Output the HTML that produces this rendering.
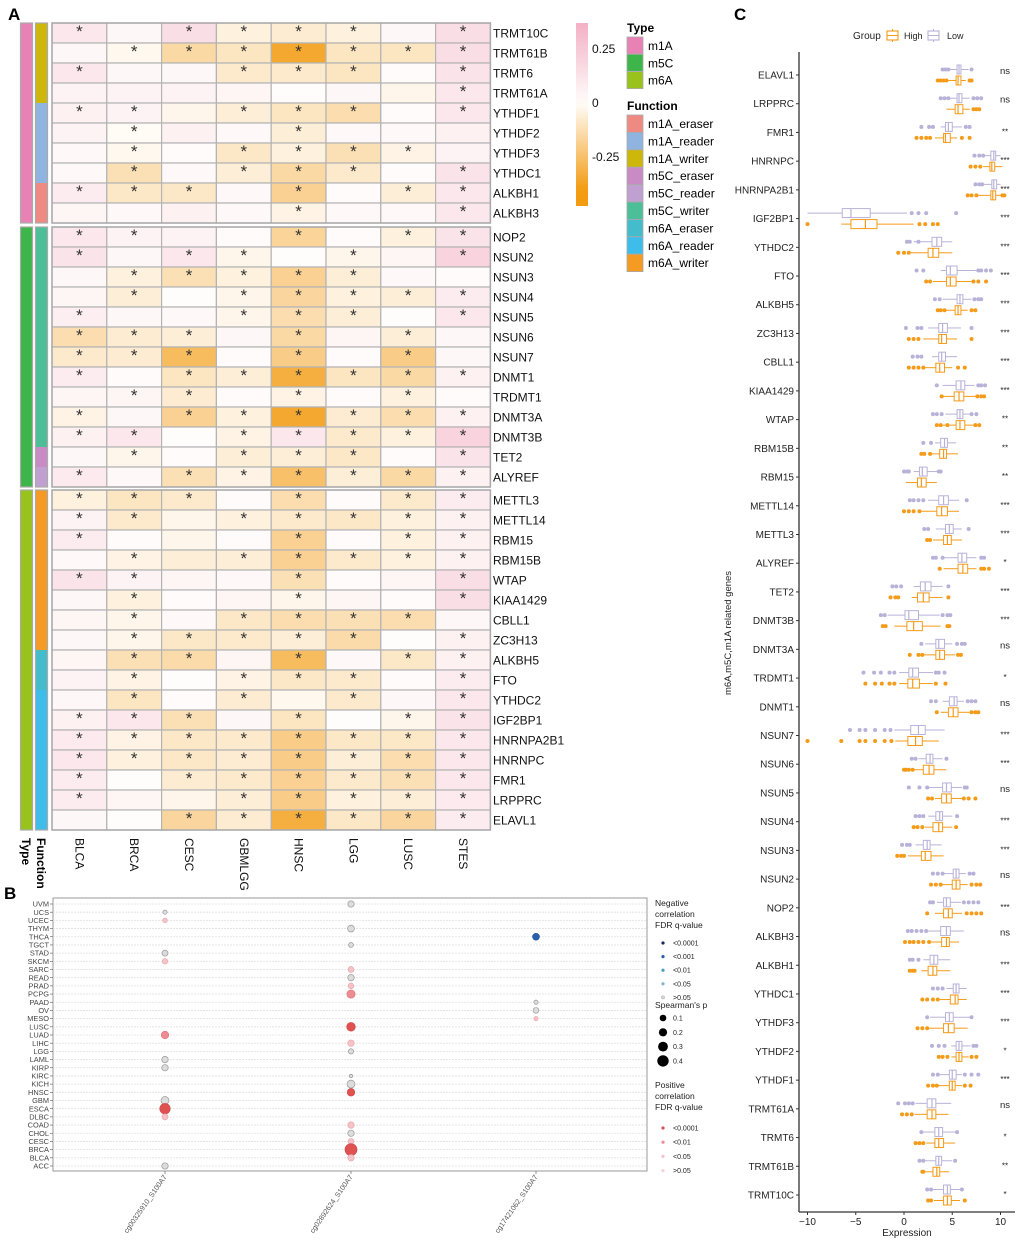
<!DOCTYPE html>
<html><head><meta charset="utf-8">
<style>
html,body{margin:0;padding:0;background:#fff;}
svg{display:block;font-family:"Liberation Sans",sans-serif;}
</style></head>
<body>
<svg id="fig" width="1020" height="1243" viewBox="0 0 1020 1243" xmlns="http://www.w3.org/2000/svg">
<text x="8" y="20" font-size="17" font-weight="bold">A</text>
<text x="4" y="899" font-size="17" font-weight="bold">B</text>
<text x="734" y="20" font-size="17" font-weight="bold">C</text>
<g id="pa"></g>
<g id="pb"></g>
<g id="pc"></g>
</svg>
<script>
// ---------- Panel A data ----------
const hmCancers = ["BLCA","BRCA","CESC","GBMLGG","HNSC","LGG","LUSC","STES"];
const hmGenes = ["TRMT10C","TRMT61B","TRMT6","TRMT61A","YTHDF1","YTHDF2","YTHDF3","YTHDC1","ALKBH1","ALKBH3",
"NOP2","NSUN2","NSUN3","NSUN4","NSUN5","NSUN6","NSUN7","DNMT1","TRDMT1","DNMT3A","DNMT3B","TET2","ALYREF",
"METTL3","METTL14","RBM15","RBM15B","WTAP","KIAA1429","CBLL1","ZC3H13","ALKBH5","FTO","YTHDC2","IGF2BP1","HNRNPA2B1","HNRNPC","FMR1","LRPPRC","ELAVL1"];
const hmType = [0,0,0,0,0,0,0,0,0,0, 1,1,1,1,1,1,1,1,1,1,1,1,1, 2,2,2,2,2,2,2,2,2,2,2,2,2,2,2,2,2];
const hmFunc = [2,2,2,2,1,1,1,1,0,0, 5,5,5,5,5,5,5,5,5,5,5,3,4, 8,8,8,8,8,8,8,8,6,6,7,7,7,7,7,7,7];
const hmValues = [
[0.10,0.03,0.15,-0.05,-0.07,-0.05,0.03,0.15],
[0.03,-0.02,-0.15,-0.10,-0.35,-0.10,-0.10,0.15],
[0.10,0.03,0.03,-0.08,-0.08,-0.10,0.01,0.12],
[0.05,0.05,0.05,0.04,0.00,0.03,-0.03,0.10],
[0.06,0.05,-0.03,-0.06,-0.10,-0.13,0.01,0.10],
[0.05,-0.01,0.06,0.02,-0.06,0.02,0.02,0.06],
[0.02,-0.02,0.01,-0.09,-0.05,-0.12,-0.04,0.05],
[0.02,-0.12,0.02,-0.06,-0.15,-0.08,0.01,0.12],
[0.08,-0.09,-0.09,0.02,-0.18,0.01,-0.06,0.10],
[0.04,0.02,0.06,0.02,-0.04,0.02,0.02,0.10],
[0.10,0.05,0.05,0.01,-0.17,0.01,-0.05,0.12],
[0.12,0.03,0.10,-0.03,0.00,-0.03,0.04,0.20],
[0.03,-0.05,-0.12,-0.05,-0.18,-0.06,0.02,0.01],
[0.04,-0.06,0.00,-0.03,-0.16,-0.05,-0.06,0.08],
[0.07,0.03,0.02,-0.03,-0.13,-0.06,0.00,0.10],
[-0.13,-0.07,-0.06,0.03,-0.15,0.04,-0.06,0.03],
[-0.08,-0.07,-0.27,0.01,-0.20,0.01,-0.20,0.03],
[0.08,0.01,-0.10,-0.06,-0.32,-0.10,-0.15,0.06],
[0.04,0.04,-0.07,0.01,-0.04,0.01,-0.05,0.01],
[-0.04,0.03,-0.18,-0.05,-0.35,-0.07,-0.13,0.06],
[0.06,0.10,0.00,-0.04,0.10,-0.08,-0.05,0.20],
[0.03,-0.03,0.01,-0.06,-0.06,-0.09,0.01,0.12],
[0.09,0.02,-0.12,-0.04,-0.25,-0.06,-0.15,0.06],
[-0.05,-0.10,-0.08,0.01,-0.13,0.01,-0.08,0.08],
[0.05,-0.08,-0.03,-0.05,-0.08,-0.09,-0.05,0.06],
[0.08,0.01,-0.03,0.01,-0.18,0.01,-0.05,0.06],
[0.02,-0.04,-0.06,-0.06,-0.18,-0.08,-0.05,0.06],
[0.12,0.05,0.04,0.02,-0.12,0.01,0.04,0.15],
[0.03,-0.05,0.01,0.04,-0.03,0.04,0.01,0.15],
[0.04,-0.03,0.02,-0.09,-0.13,-0.12,-0.13,0.03],
[0.03,-0.03,-0.09,-0.08,-0.06,-0.14,0.00,0.06],
[0.04,-0.12,-0.14,0.04,-0.27,0.02,-0.09,0.06],
[0.05,-0.04,0.00,-0.04,-0.09,-0.08,0.01,0.08],
[0.03,-0.10,0.01,-0.07,-0.02,-0.08,0.03,0.10],
[0.06,0.10,-0.12,0.03,-0.10,0.00,-0.03,0.12],
[0.09,-0.04,-0.09,-0.08,-0.20,-0.09,-0.09,0.10],
[0.10,-0.05,-0.09,-0.07,-0.20,-0.06,-0.13,0.10],
[0.08,0.00,-0.07,-0.08,-0.18,-0.08,-0.12,0.10],
[0.08,0.04,-0.03,-0.06,-0.20,-0.05,-0.06,0.09],
[0.03,0.00,-0.16,-0.07,-0.32,-0.09,-0.16,0.08]];
const hmStars = ["10111101","01111111","10011101","00000001","11011101","01001000","01011110","01011101","11101011","00001001",
"11001011","10110101","01111100","01011111","10011101","11101010","11101010","10111111","01101010","10111111","11011111","01011101","10111111",
"11101011","11011111","10001011","01011111","11001001","01001001","01011110","01111101","01101011","01011101","01010101","11101011","11111111","11111111","10111111","10011111","00111111"];
const typeNames = ["m1A","m5C","m6A"];
const funcNames = ["m1A_eraser","m1A_reader","m1A_writer","m5C_eraser","m5C_reader","m5C_writer","m6A_eraser","m6A_reader","m6A_writer"];
const colorbarTicks = [0.25,0,-0.25];

// ---------- Panel B data ----------
const bCancers = ["UVM","UCS","UCEC","THYM","THCA","TGCT","STAD","SKCM","SARC","READ","PRAD","PCPG","PAAD","OV","MESO","LUSC","LUAD","LIHC","LGG","LAML","KIRP","KIRC","KICH","HNSC","GBM","ESCA","DLBC","COAD","CHOL","CESC","BRCA","BLCA","ACC"];
const bProbes = ["cg00325910_S100A7","cg02892624_S100A7","cg17421062_S100A7"];
const bPtProbe = [0,0,0,0,0,0,0,0,0,0,0, 1,1,1,1,1,1,1,1,1,1,1,1,1,1,1,1,1,1, 2,2,2,2];
const bPtCancer = ["UCS","UCEC","STAD","SKCM","LUAD","LAML","KIRP","GBM","ESCA","DLBC","ACC",
"UVM","THYM","TGCT","SARC","READ","PRAD","PCPG","LUSC","LIHC","LGG","KIRC","KICH","HNSC","COAD","CHOL","CESC","BRCA","BLCA",
"THCA","PAAD","OV","MESO"];
const bPtRho = [0.10,0.12,0.18,0.16,0.25,0.20,0.20,0.27,0.38,0.18,0.20,
0.20,0.22,0.13,0.18,0.20,0.17,0.28,0.30,0.20,0.15,0.06,0.27,0.25,0.20,0.20,0.18,0.45,0.20,
0.22,0.10,0.17,0.10];
const bPtClass = ["ns","p05","ns","p05","p01","ns","ns","ns","p0001","p05","ns",
"ns","ns","ns","p05","ns","p05","p01","p0001","p05","ns","ns","ns","p0001","p05","ns","p05","p0001","p05",
"n001","ns","ns","p05"];

// ---------- Panel C data ----------
const cGenes = ["ELAVL1","LRPPRC","FMR1","HNRNPC","HNRNPA2B1","IGF2BP1","YTHDC2","FTO","ALKBH5","ZC3H13","CBLL1","KIAA1429","WTAP","RBM15B","RBM15","METTL14","METTL3","ALYREF","TET2","DNMT3B","DNMT3A","TRDMT1","DNMT1","NSUN7","NSUN6","NSUN5","NSUN4","NSUN3","NSUN2","NOP2","ALKBH3","ALKBH1","YTHDC1","YTHDF3","YTHDF2","YTHDF1","TRMT61A","TRMT6","TRMT61B","TRMT10C"];
const cLow = [[4.7,5.5,5.7,5.9,6.7],[4.8,5.5,5.7,6,6.8],[3.8,4.3,4.6,5,6],[8.3,9,9.3,9.5,10],[8.2,9.1,9.3,9.6,10],[-10,-6.4,-5.5,-3.5,0.3],[1,2.9,3.4,3.9,5],[3.8,4.4,4.8,5.5,7.5],[4,5.5,5.8,6.1,7],[2.5,3.6,4,4.5,5.9],[2.9,3.6,3.9,4.3,5.5],[4,5.4,5.9,6.3,7.3],[4.3,5.5,5.8,6.1,6.8],[3.2,3.8,4.2,4.5,5.4],[1,1.6,1.9,2.4,3.5],[2.5,3.6,4.1,4.6,5.7],[3.3,4.3,4.7,5.1,6],[4.1,5.6,6,6.5,7.5],[1,1.7,2.2,2.8,4],[-1.7,0.1,0.5,1.5,3.7],[2.2,3.3,3.6,4.2,5],[-0.5,0.5,0.9,1.5,3],[4,4.7,5.2,5.5,6.2],[-1,0.7,1.5,2.2,4.2],[1.5,2.3,2.7,3,4],[2.5,4,4.4,4.9,6],[2.5,3.3,3.7,4,5],[1.2,2,2.4,2.7,3.9],[4,5.1,5.4,5.7,6.4],[3.4,4.1,4.4,4.8,5.9],[2.5,3.8,4.4,4.8,6.2],[2,2.7,3.1,3.5,4.8],[4.4,5.1,5.4,5.7,6.5],[2.7,4.3,4.7,5.1,6.9],[4.9,5.4,5.7,6,6.9],[3.6,4.7,5,5.4,6],[1.2,2.4,2.9,3.3,4.9],[2,3.2,3.6,4,5.3],[2.2,3.3,3.6,3.9,5],[3,4.1,4.5,4.8,5.8]];
const cHigh = [[4.6,5.4,5.6,5.9,6.4],[4.4,5.3,5.6,6.1,6.8],[3.2,4.1,4.3,4.8,5.5],[8.2,8.9,9.1,9.4,10.2],[7.6,9,9.2,9.5,10],[-6.5,-5.5,-4,-2.8,1],[0.7,2.5,3,3.6,5],[3,4.4,4.8,5.4,7],[4.4,5.3,5.6,5.9,6.6],[2,3.6,3.9,4.4,5.5],[2,3.3,3.7,4.2,5],[4,5.2,5.7,6.2,7.4],[4,5.4,5.8,6.3,7.2],[2.5,3.7,4.1,4.4,5.6],[0.2,1.4,1.8,2.3,3.4],[1.6,3.4,3.9,4.5,5.7],[3,4.1,4.5,4.9,6],[4.1,5.6,6.1,6.6,7.5],[0.8,1.4,2,2.6,4],[-1,0.3,1,1.9,3.8],[2,3.3,3.7,4.2,5.3],[-0.5,0.4,0.9,1.6,3],[3.8,4.6,5.1,5.6,6.8],[-0.9,0.4,1.2,1.9,3.6],[1,2,2.6,3.1,4.4],[3.2,3.9,4.4,4.9,6],[2.2,3,3.6,4,5],[0.4,1.8,2.2,2.8,4.1],[4,5,5.4,5.8,6.6],[3.2,4.1,4.6,5,6],[2.6,3.9,4.4,4.7,5.7],[1.8,2.5,3,3.4,4.8],[3.7,4.8,5.3,5.6,6.5],[2.6,4.1,4.6,5.2,6.6],[4.9,5.4,5.7,6,6.7],[3.5,4.7,5,5.3,6],[1.1,2.4,2.9,3.3,4.6],[2.3,3.2,3.6,4.1,5.3],[2.2,3,3.4,3.7,4.7],[3.1,4.1,4.5,4.9,5.8]];
const cLowOut = [[4,4.3,4.6,7],[3.8,4.2,4.6,7.2,7.6,8],[1.8,2.6,3,6.4,6.8],[7.3,7.8,8.2],[7.4,7.8,8.1],[0.8,1.5,2.3,5.4],[0.3,0.6,1.5],[1.3,2,7.7,8,8.5,9],[3.2,3.7,7.3,7.7,8],[0.2,1.4,1.8,7],[0.9,1.4,1.8],[3.4,7.7,8,8.4],[3,3.4,3.9,7,7.5],[2,2.8],[0,0.3,0.5,3.6,3.8],[0.6,1,1.5,2,6.5],[2.1,2.5,6.7],[3,3.3,4,8,8.3],[-1.2,-0.8,-0.3,4.6],[-2.4,-2,4,4.5,4.8],[1.8,5.5,6,6.3],[-4.2,-3.1,-2.4,-1.5,-1,3.3,3.6,4.2],[2.8,3.3,6.6,7,7.4],[-5.6,-4.6,-4,-3,-2,-1.4],[0.8,1.2,4.4],[0.5,1.6,2.4,6.3,6.5],[1.2,1.6,2,5.5],[-0.2,0.3,0.6],[3,3.5,4,6.8,7.2],[2.7,3,6.2,6.7,7.2,7.7],[0.4,0.8,1.3,1.8,2.3],[0.6,0.9,1.5],[3,3.5,4],[2.4,7],[2.9,3.6,4.2,7.2,7.5],[3,3.5,6.3,7,7.7],[-0.6,0.1,0.5,0.9],[1.8,5.5],[1.6,2,5.3],[2.4,2.8,6]];
const cHighOut = [[3.5,3.8,4.1,4.4,6.8,7],[7.2,7.5,7.8],[1.3,1.8,2.3,2.7,6,6.8],[6.9,7.4,7.9],[6.6,7,7.5,10.2,10.4],[-10,1.6,2.2,3,3.5],[-0.6,0,0.5],[2.3,2.7,7.2,7.7,8.5],[3.5,3.8,4.2,7,7.4],[0.5,1,1.5,7],[0.5,1,1.5,2,5.6,6.3],[3.9,7.6,8,8.3],[3.4,3.8,4.5,7.4,7.8],[1.8,2.1,2.7],[],[0,0.5,1,1.6],[2.4,2.7],[3.7,8,8.3,8.8],[-1.4,-0.9,-0.6,4.6],[-2.2,-1.9,4.5,4.7],[0.6,1.5,1.9,5.6,5.9],[-4,-3,-2.3,-1.5,-1,3.3,4.3],[3.4,7,7.4,7.7],[-10,-6.5,-4.6,-4,-3,-2,-1.3],[0,0.2,0.5,0.9],[2.5,2.9,6.2,6.7,7.4],[1,1.4,1.9,5.4],[-0.7,-0.3,0],[2.8,3.3,3.8,7,7.5,7.9],[2.4,6.5,7,7.5,8],[0.1,0.6,1,1.5,2,2.6],[0.6,0.9,1.1],[1.9,2.4,3,3.5],[1.4,1.9,2.4],[3.6,4,4.5,7,7.5],[2.5,3,3.4,6.3,6.9],[-0.2,0.3,0.8],[1.2,1.6,2],[1.9,2],[2.5,2.8,6.3]];
const cSig = ["ns","ns","**","***","***","***","***","***","***","***","***","***","**","**","**","***","***","*","***","***","ns","*","ns","***","***","ns","***","***","ns","***","ns","***","***","***","*","***","ns","*","**","*"];
const cTicks = [-10,-5,0,5,10];

// ---------- helpers ----------
const NS="http://www.w3.org/2000/svg";
function mk(tag, attrs, parent, txt){const e=document.createElementNS(NS,tag);for(const k in attrs)e.setAttribute(k,attrs[k]);if(txt!==undefined)e.textContent=txt;parent.appendChild(e);return e;}
function mix(a,b,t){t=Math.max(0,Math.min(1,t));const r=[0,1,2].map(i=>Math.round(a[i]+(b[i]-a[i])*t));return `rgb(${r[0]},${r[1]},${r[2]})`;}
const WHITE=[255,253,251], PINK=[243,176,196], ORANGE=[243,156,18];
function hmColor(v){return v>=0?mix(WHITE,PINK,v/0.37):mix(WHITE,ORANGE,-v/0.40);}
const typeCol=["#e882b4","#3db54a","#99c31c"];
const funcCol=["#ef8a82","#8fb4e0","#cdb70a","#c98bc4","#c0a0d0","#4dbf98","#45bccc","#3fbdea","#f59a23"];

// ---------- Panel A ----------
(function(){
const g=document.getElementById('pa');
const x0=52, cw=54.8, rh=20;
const groupTop=[23,227,490];
function rowY(i){const t=hmType[i];const first=hmType.indexOf(t);return groupTop[t]+(i-first)*rh;}
hmGenes.forEach((gene,i)=>{
  const y=rowY(i);
  let r=mk('rect',{x:20.5,y:y,width:12,height:rh,fill:typeCol[hmType[i]]},g);
  
  
  r=mk('rect',{x:35.5,y:y,width:12,height:rh,fill:funcCol[hmFunc[i]]},g);
  
  
  hmValues[i].forEach((v,j)=>{
    const c=mk('rect',{x:x0+j*cw,y:y,width:cw,height:rh,fill:hmColor(v),stroke:'#b3b3b3','stroke-width':1.2},g);
    
    
    if(hmStars[i][j]==='1'){
      const s=mk('text',{x:x0+j*cw+cw/2,y:y+14,'font-size':17,'text-anchor':'middle',fill:'#333'},g,'*');
      
      
    }
  });
  const t=mk('text',{x:493,y:y+14.5,'font-size':12,fill:'#111'},g,gene);
  
  
});
[[0,9],[10,22],[23,39]].forEach(([a,b])=>{
  const y1=rowY(a), y2=rowY(b)+rh;
  mk('rect',{x:x0,y:y1,width:cw*8,height:y2-y1,fill:'none',stroke:'#aaa','stroke-width':1.5},g);
  mk('rect',{x:20.5,y:y1,width:12,height:y2-y1,fill:'none',stroke:'#aaa','stroke-width':1.2},g);
  mk('rect',{x:35.5,y:y1,width:12,height:y2-y1,fill:'none',stroke:'#aaa','stroke-width':1.2},g);
});
hmCancers.forEach((c,j)=>{
  const cx=x0+j*cw+cw/2;
  const t=mk('text',{x:0,y:0,'font-size':12,fill:'#111',transform:`translate(${cx-4},838) rotate(90)`},g,c);
  
  
});
let t=mk('text',{x:0,y:0,'font-size':12,'font-weight':'bold',transform:'translate(22,838) rotate(90)'},g,'Type');

t=mk('text',{x:0,y:0,'font-size':12,'font-weight':'bold',transform:'translate(37,838) rotate(90)'},g,'Function');

const defs=mk('defs',{},g);
const lg=mk('linearGradient',{id:'cbg',x1:0,y1:0,x2:0,y2:1},defs);
const cbTop=23, cbBot=206, cbZero=103, cbPer=54/0.25;
const vTop=(cbZero-cbTop)/cbPer, vBot=-(cbBot-cbZero)/cbPer;
for(let k=0;k<=20;k++){const v=vTop+(vBot-vTop)*k/20;mk('stop',{offset:(k/20),'stop-color':hmColor(v)},lg);}
const cb=mk('rect',{x:576,y:cbTop,width:12,height:cbBot-cbTop,fill:'url(#cbg)'},g);

colorbarTicks.forEach(v=>{
  const tt=mk('text',{x:592,y:cbZero-v*cbPer+4,'font-size':12,fill:'#111'},g,String(v));
  
});
t=mk('text',{x:627,y:32,'font-size':12,'font-weight':'bold'},g,'Type');

typeNames.forEach((n,k)=>{
  const y=37+k*17.3;
  const r=mk('rect',{x:627,y:y,width:16,height:17,fill:typeCol[k],stroke:'#aaa','stroke-width':0.8},g);
  
  const tt=mk('text',{x:648,y:y+13,'font-size':12},g,n);
  
});
t=mk('text',{x:627,y:110,'font-size':12,'font-weight':'bold'},g,'Function');

funcNames.forEach((n,k)=>{
  const y=115+k*17.4;
  const r=mk('rect',{x:627,y:y,width:16,height:17.4,fill:funcCol[k],stroke:'#aaa','stroke-width':0.8},g);
  
  const tt=mk('text',{x:648,y:y+13,'font-size':12},g,n);
  
});
})();

// ---------- Panel B ----------
(function(){
const g=document.getElementById('pb');
const L=53,R=647,T=898,B=1171;
const yTop=904, yStep=(1166-904)/(bCancers.length-1);
const yOf=c=>yTop+bCancers.indexOf(c)*yStep;
const xs=[165,351,536];
const xOf=p=>xs[p];
const rOf=r=>1+r*11;
const clsFill={ns:'#dcdcdc',p05:'#f5c3c8',p01:'#ec8d93',p0001:'#e05252',n001:'#2a5fad'};
const clsStroke={ns:'#999',p05:'#e8a8ae',p01:'#dd7a80',p0001:'#cf4545',n001:'#1e4d96'};
const frame=mk('rect',{x:L,y:T,width:R-L,height:B-T,fill:'#fff',stroke:'#999','stroke-width':1},g);

bCancers.forEach(c=>{
  const y=yOf(c);
  mk('line',{x1:L,x2:R,y1:y,y2:y,stroke:'#e0e0e0','stroke-width':0.8,'stroke-dasharray':'2,1'},g);
  mk('line',{x1:L-3,x2:L,y1:y,y2:y,stroke:'#555','stroke-width':0.6},g);
  const t=mk('text',{x:L-4,y:y+2.6,'font-size':7.4,'text-anchor':'end',fill:'#444'},g,c);
  
  
});
bProbes.forEach((p,k)=>{
  const x=xOf(k);
  mk('line',{x1:x,x2:x,y1:B,y2:B+3,stroke:'#555','stroke-width':0.6},g);
  const t=mk('text',{x:0,y:0,'font-size':7.2,'text-anchor':'end',fill:'#555',transform:`translate(${x+2},${B+6}) rotate(-55)`},g,p);
  
  
});
bPtProbe.forEach((p,i)=>{
  const cls=bPtClass[i];
  const c=mk('circle',{cx:xOf(p),cy:yOf(bPtCancer[i]),r:rOf(bPtRho[i]),fill:clsFill[cls],stroke:clsStroke[cls],'stroke-width':0.7},g);
  
  
});
const lx=655;
function txt(x,y,s,fs,name){const t=mk('text',{x:x,y:y,'font-size':fs,fill:'#222'},g,s);return t;}
txt(lx,906,'Negative',8.5,'legend-title');txt(lx,917,'correlation',8.5,'legend-title');txt(lx,928,'FDR q-value',8.5,'legend-title');
[['#1a2a5a','<0.0001'],['#2a5fad','<0.001'],['#4a9ac4','<0.01'],['#7fb2cc','<0.05'],['#ddd','>0.05']].forEach((d,k)=>{
  const y=943+k*13.6;
  const c=mk('circle',{cx:663,cy:y,r:1.6,fill:d[0],stroke:k==4?'#999':'none','stroke-width':0.5},g);
  
  txt(673,y+2.5,d[1],7,'legend-entry');
});
txt(lx,1008,"Spearman's p",8.5,'legend-title');
[0.1,0.2,0.3,0.4].forEach((r,k)=>{
  const y=1018+k*14.3;
  const c=mk('circle',{cx:663,cy:y,r:2.5+r*8,fill:'#000'},g);
  
  txt(673,y+2.5,String(r),7,'legend-entry');
});
txt(lx,1088,'Positive',8.5,'legend-title');txt(lx,1099,'correlation',8.5,'legend-title');txt(lx,1110,'FDR q-value',8.5,'legend-title');
[['#e05252','<0.0001'],['#ec8d93','<0.01'],['#f5c3c8','<0.05'],['#f8d3d6','>0.05']].forEach((d,k)=>{
  const y=1128+k*14.2;
  const c=mk('circle',{cx:663,cy:y,r:1.6,fill:d[0]},g);
  
  txt(673,y+2.5,d[1],7,'legend-entry');
});
})();

// ---------- Panel C ----------
(function(){
const g=document.getElementById('pc');
const X0=904, PX=9.65, axX=799, axB=1212;
const xOf=v=>X0+v*PX;
const y0=75, step=(1195-75)/(cGenes.length-1);
const yOf=i=>y0+i*step;
const LOW='#b9b2d8', HIGH='#f49b1a';
mk('line',{x1:axX,x2:axX,y1:52,y2:axB,stroke:'#333','stroke-width':1.3},g);
mk('line',{x1:axX,x2:1015,y1:axB,y2:axB,stroke:'#333','stroke-width':1.3},g);
cTicks.forEach(v=>{
  const x=xOf(v);
  mk('line',{x1:x,x2:x,y1:axB,y2:axB+3,stroke:'#333','stroke-width':1},g);
  const t=mk('text',{x:x,y:axB+13,'font-size':10,'text-anchor':'middle',fill:'#222'},g,String(v).replace('-','\u2212'));
  
});
let t=mk('text',{x:907,y:1236,'font-size':10,'text-anchor':'middle',fill:'#222'},g,'Expression');

t=mk('text',{x:0,y:0,'font-size':9.5,'text-anchor':'middle',fill:'#222',transform:'translate(731,633) rotate(-90)'},g,'m6A,m5C,m1A related genes');

function box(st,out,yc,col,name){
  mk('line',{x1:xOf(st[0]),x2:xOf(st[1]),y1:yc,y2:yc,stroke:col,'stroke-width':1},g);
  mk('line',{x1:xOf(st[3]),x2:xOf(st[4]),y1:yc,y2:yc,stroke:col,'stroke-width':1},g);
  const r=mk('rect',{x:xOf(st[1]),y:yc-4.5,width:Math.max(1,xOf(st[3])-xOf(st[1])),height:9,fill:'#fff',stroke:col,'stroke-width':1},g);
  
  mk('line',{x1:xOf(st[2]),x2:xOf(st[2]),y1:yc-4.5,y2:yc+4.5,stroke:col,'stroke-width':1.2},g);
  out.forEach(v=>{
    const c=mk('circle',{cx:xOf(v),cy:yc,r:2,fill:col},g);
    
  });
}
cGenes.forEach((gene,i)=>{
  const y=yOf(i);
  mk('line',{x1:axX-3,x2:axX,y1:y,y2:y,stroke:'#333','stroke-width':1},g);
  const tl=mk('text',{x:axX-5,y:y+3.5,'font-size':10,'text-anchor':'end',fill:'#222'},g,gene);
  
  box(cLow[i],cLowOut[i],y-5.5,LOW,'box-low-'+gene.toLowerCase());
  box(cHigh[i],cHighOut[i],y+5.5,HIGH,'box-high-'+gene.toLowerCase());
  const st=cSig[i]==='ns';
  const s=mk('text',{x:1005,y:st?y-1:y+2,'font-size':st?9.5:8,'text-anchor':'middle',fill:'#222'},g,cSig[i]);
  
});
t=mk('text',{x:853,y:39,'font-size':10,fill:'#222'},g,'Group');

[[887,HIGH,'High',904],[928,LOW,'Low',947]].forEach(d=>{
  mk('line',{x1:d[0]+5.5,x2:d[0]+5.5,y1:29,y2:42,stroke:d[1],'stroke-width':1},g);
  const r=mk('rect',{x:d[0],y:31,width:11,height:9,fill:'#fff',stroke:d[1],'stroke-width':1.1},g);
  
  mk('line',{x1:d[0],x2:d[0]+11,y1:35.5,y2:35.5,stroke:d[1],'stroke-width':1},g);
  const tt=mk('text',{x:d[3],y:39,'font-size':9,fill:'#222'},g,d[2]);
  
});
})();
</script>
</body></html>
